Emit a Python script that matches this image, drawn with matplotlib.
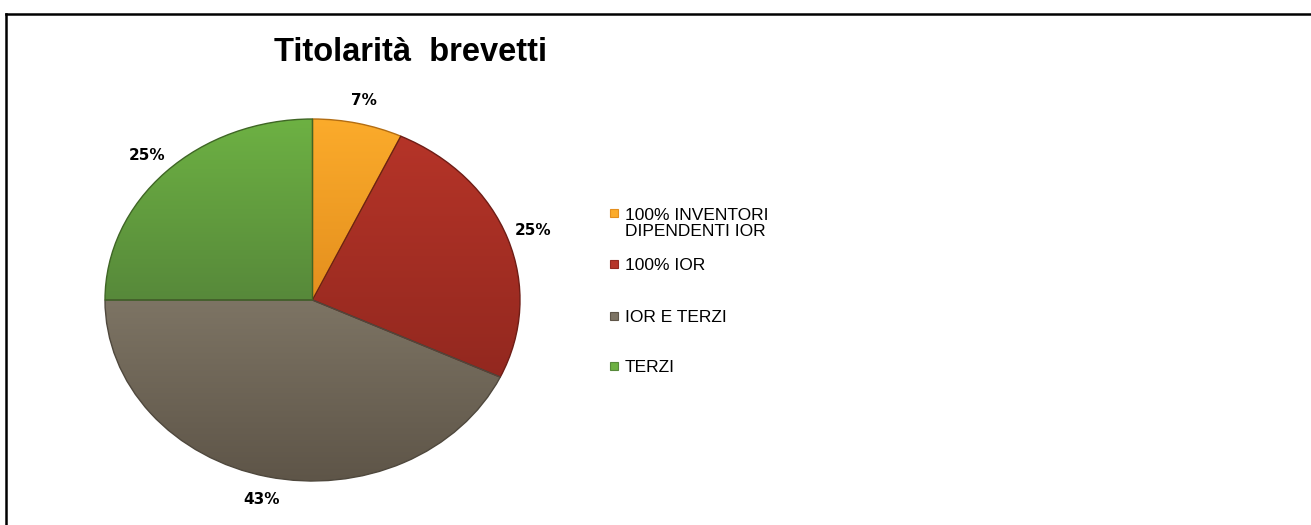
"""
Titolarità brevetti: grafico a torta con legenda a destra.
"""

import numpy as np
import matplotlib
matplotlib.use("Agg")
import matplotlib.pyplot as plt
from matplotlib.colors import LinearSegmentedColormap
from matplotlib.lines import Line2D
from matplotlib.patches import Rectangle

W, H = 1311, 525

TITLE = "Titolarità  brevetti"
LABELS = ["100% INVENTORI\nDIPENDENTI IOR", "100% IOR", "IOR E TERZI", "TERZI"]
SHARES = [7, 25, 43, 25]
COLORS_TOP = ["#fbab2b", "#b53428", "#7d7464", "#6db143"]
COLORS_BOTTOM = ["#e48f1e", "#93281f", "#5e5548", "#57893a"]
EDGE_COLORS = ["#b36d12", "#6e1d16", "#4f483d", "#3f6625"]

# posizioni della legenda (pixel dall'alto, linea di base della prima riga)
LEGEND_BASELINES = [219, 270, 322, 372]
LEGEND_LINE_STEP = 17


def px(x, y):
    """Converte pixel (origine in alto a sinistra) in coordinate della figura."""
    return x / W, 1 - y / H


def draw_pie(fig):
    ax = fig.add_axes([105 / W, 44 / H, 415 / W, 362 / H])
    wedges, _, autotexts = ax.pie(
        SHARES, startangle=90, counterclock=False, colors=COLORS_TOP,
        autopct="%1.0f%%", pctdistance=1.13,
        textprops=dict(family="DejaVu Sans", fontweight="bold", fontsize=11, color="black"),
    )
    ax.set_aspect("auto")

    # riempimento sfumato per ogni fetta
    for w, c_top, c_bot, c_edge in zip(wedges, COLORS_TOP, COLORS_BOTTOM, EDGE_COLORS):
        x0, y0, x1, y1 = w.get_path().get_extents().extents
        cmap = LinearSegmentedColormap.from_list("g", [c_top, c_bot])
        grad = np.linspace(0, 1, 256).reshape(-1, 1)
        im = ax.imshow(grad, cmap=cmap, extent=[x0, x1, y0, y1], origin="upper",
                       aspect="auto", zorder=2, interpolation="bilinear")
        im.set_clip_path(w)
        w.set_facecolor("none")
        w.set_edgecolor(c_edge)
        w.set_linewidth(1.0)
        w.set_zorder(3)
    ax.set_xlim(-1, 1)
    ax.set_ylim(-1, 1)
    for t in autotexts:
        t.set_clip_on(False)
    return ax


def draw_legend(fig):
    for label, c_top, c_bot, base in zip(LABELS, COLORS_TOP, COLORS_BOTTOM, LEGEND_BASELINES):
        x, y = px(610, base - 2)
        fig.patches.append(Rectangle((x, y), 8 / W, 8 / H, transform=fig.transFigure,
                                     facecolor=c_top, edgecolor=c_bot, linewidth=0.8))
        # l'allineamento "baseline" usa l'ultima riga: si sposta di conseguenza
        n_extra = label.count("\n")
        tx, ty = px(625, base + n_extra * LEGEND_LINE_STEP)
        fig.text(tx, ty, label, family="Liberation Sans", fontsize=12.5,
                 va="baseline", ha="left", linespacing=1.1, color="black")


def main():
    fig = plt.figure(figsize=(W / 100, H / 100), dpi=100)
    fig.patch.set_facecolor("white")

    # cornice (solo lati superiore e sinistro visibili)
    fig.lines.append(Line2D([6.5 / W, 1], [1 - 13.5 / H, 1 - 13.5 / H],
                            transform=fig.transFigure, color="black", linewidth=1.8))
    fig.lines.append(Line2D([6.5 / W, 6.5 / W], [0, 1 - 13.5 / H],
                            transform=fig.transFigure, color="black", linewidth=1.8))

    tx, ty = px(410, 61)
    fig.text(tx, ty, TITLE, family="Liberation Sans", fontweight="bold",
             fontsize=23.5, ha="center", va="baseline")

    draw_pie(fig)
    draw_legend(fig)

    fig.savefig("out.png", dpi=100, facecolor="white")
    plt.close(fig)


if __name__ == "__main__":
    main()
